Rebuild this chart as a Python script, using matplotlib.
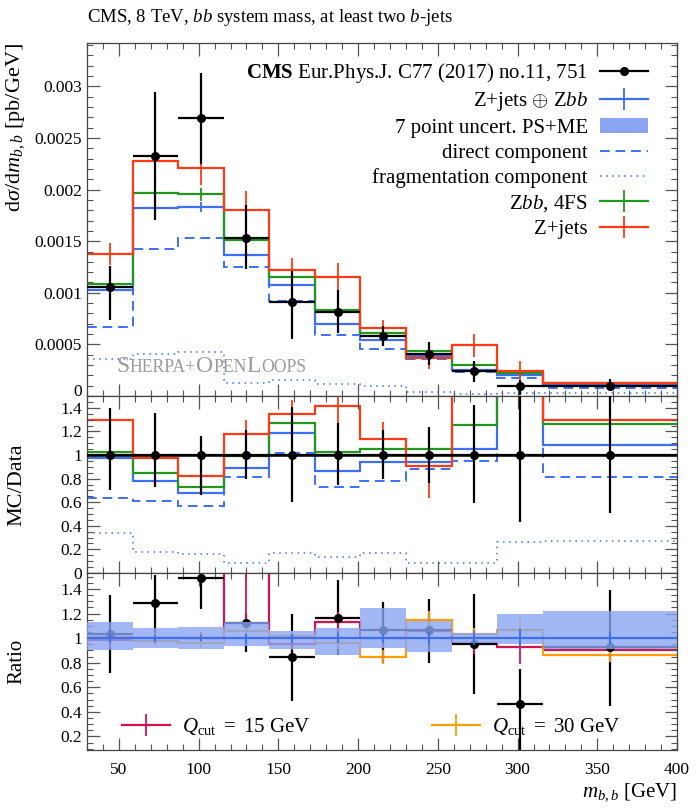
import numpy as np
import matplotlib
matplotlib.use("Agg")
import matplotlib.pyplot as plt
from matplotlib.lines import Line2D
from matplotlib.patches import Patch
from matplotlib.ticker import MultipleLocator, FuncFormatter
from matplotlib.offsetbox import TextArea, HPacker, AnchoredOffsetbox

plt.rcParams['font.family'] = 'Liberation Serif'
plt.rcParams['mathtext.fontset'] = 'custom'
plt.rcParams['mathtext.rm'] = 'Liberation Serif'
plt.rcParams['mathtext.it'] = 'Liberation Serif:italic'
plt.rcParams['mathtext.bf'] = 'Liberation Serif:bold'
plt.rcParams['font.size'] = 13

# ─── DATA ───────────────────────────────────────────────────────────────
edges = [30, 58.57, 87.14, 115.71, 144.29, 172.86, 201.43, 230, 258.57, 287.14, 315.71, 400]

# CMS data (pb/GeV) and errors as drawn in the top panel
data = [0.00106, 0.00233, 0.00269, 0.00153, 0.00091, 0.00081, 0.00058, 0.00041, 0.00024, 0.000096, 0.0001]
data_up = [0.00020, 0.00062, 0.00044, 0.00032, 0.00030, 0.00022, 0.00010, 0.00011, 0.00010, 0.00006, 0.00006]
data_dn = [0.00032, 0.00062, 0.00044, 0.00030, 0.00036, 0.00020, 0.00010, 0.00011, 0.00010, 0.00009, 0.00005]

# data error band as drawn in the MC/Data panel
mcdata_hi = [1.40, 1.356, 1.163, 1.21, 1.41, 1.27, 1.21, 1.24, 1.42, 1.6, 1.6]
mcdata_lo = [0.70, 0.73, 0.66, 0.80, 0.60, 0.75, 0.794, 0.76, 0.59, 0.435, 0.51]

# predictions (pb/GeV)
zjets_zbb = [0.001030, 0.001817, 0.001829, 0.001362, 0.001077, 0.000700, 0.000547, 0.000387, 0.000252, 0.000200, 0.0001085]
zjets_zbb_err = [0.00004, 0.00005, 0.00005, 0.00005, 0.00004, 0.00003, 0.00002, 0.00002, 0.000015, 0.000015, 0.000005]
direct = [0.000671, 0.001421, 0.001528, 0.001248, 0.000923, 0.000592, 0.000452, 0.00036, 0.000228, 0.000178, 0.0000816]
frag = [0.000363, 0.000408, 0.000425, 0.000125, 0.000152, 0.000112, 0.000097, 0.000034, 0.00002, 0.0000255, 0.000027]
zbb_4fs = [0.001090, 0.001969, 0.001953, 0.001515, 0.001154, 0.000833, 0.000611, 0.000432, 0.000302, 0.00022, 0.0001265]
zbb_4fs_err = [0.00004, 0.00006, 0.00006, 0.00005, 0.00004, 0.00003, 0.00002, 0.00002, 0.00002, 0.00002, 0.000005]
zjets = [0.001375, 0.002276, 0.002206, 0.001798, 0.001224, 0.001149, 0.000661, 0.000372, 0.00049, 0.000245, 0.00013]
zjets_err = [0.00011, 0.00018, 0.00016, 0.00019, 0.00011, 0.00014, 0.00008, 0.00011, 0.00011, 0.00009, 0.00001]

# bottom panel: ratio to Z+jets (+) Zbb
ratio_data = [1.035, 1.287, 1.488, 1.125, 0.846, 1.163, 1.07, 1.063, 0.954, 0.466, 0.927]
ratio_data_hi = [1.35, 1.51, 1.53, 1.20, 1.20, 1.47, 1.29, 1.32, 1.36, 0.75, 1.39]
ratio_data_lo = [0.72, 0.955, 1.24, 0.886, 0.49, 0.86, 0.80, 0.80, 0.547, 0.0, 0.45]
band_lo = [0.90, 0.92, 0.91, 0.935, 0.91, 0.86, 0.92, 0.886, 0.96, 0.955, 0.908]
band_hi = [1.13, 1.08, 1.09, 1.135, 1.06, 1.08, 1.246, 1.14, 1.04, 1.20, 1.217]
q15 = [0.986, 1.0, 1.0, 1.8, 0.954, 1.13, 1.0, 1.055, 0.96, 0.927, 0.905]
q15_err = [0.07, 0.05, 0.05, 0.65, 0.05, 0.08, 0.08, 0.08, 0.09, 0.14, 0.05]
q30 = [1.01, 0.98, 0.96, 1.055, 1.014, 0.96, 0.846, 1.144, 1.03, 1.07, 0.865]
q30_err = [0.04, 0.04, 0.04, 0.04, 0.04, 0.05, 0.06, 0.08, 0.05, 0.09, 0.06]

# ─── STYLE ──────────────────────────────────────────────────────────────
C_BLUE = '#3d6ff0'
C_GREEN = '#23961f'
C_RED = '#ff3a14'
C_CRIMSON = '#d11450'
C_ORANGE = '#ff9c0a'
C_BAND = '#8aa6f2'
LABEL_X = -0.102

edges = np.array(edges)
cx = 0.5 * (edges[1:] + edges[:-1])
hw = 0.5 * (edges[1:] - edges[:-1])
d = np.array(data)


def style_axis(ax):
    ax.set_xlim(30, 400)
    ax.xaxis.set_major_locator(MultipleLocator(50))
    ax.xaxis.set_minor_locator(MultipleLocator(10))
    ax.tick_params(which='both', direction='in', top=True, right=True, color='#555555',
                   labelsize=12.5)
    ax.tick_params(which='major', length=9, width=0.9)
    ax.tick_params(which='minor', length=4.5, width=0.8)
    ax.tick_params(axis='x', pad=9)
    ax.yaxis.set_major_formatter(FuncFormatter(lambda v, p: '%g' % round(v, 6)))
    for s in ax.spines.values():
        s.set_color('#444444')
        s.set_linewidth(0.9)


def mc_hist(ax, vals, errs, color, ls='-', lw=1.6):
    vals = np.array(vals)
    ax.stairs(vals, edges, baseline=None, color=color, lw=lw, ls=ls)
    if errs is not None:
        ax.errorbar(cx, vals, yerr=errs, fmt='none', ecolor=color, elinewidth=1.3)


fig = plt.figure(figsize=(7, 8.1), dpi=100)
ax1 = fig.add_axes([0.1243, 0.5111, 0.8429, 0.4358])
ax2 = fig.add_axes([0.1243, 0.2926, 0.8429, 0.2185], sharex=ax1)
ax3 = fig.add_axes([0.1243, 0.0741, 0.8429, 0.2185], sharex=ax1)

# ─── MAIN PANEL ─────────────────────────────────────────────────────────
mc_hist(ax1, frag, None, C_BLUE, ls=(0, (1, 3)), lw=1.1)
mc_hist(ax1, direct, None, C_BLUE, ls=(0, (5, 3)), lw=1.4)
mc_hist(ax1, zjets_zbb, zjets_zbb_err, C_BLUE)
mc_hist(ax1, zbb_4fs, zbb_4fs_err, C_GREEN)
mc_hist(ax1, zjets, zjets_err, C_RED)
ax1.errorbar(cx, d, xerr=hw, yerr=[data_dn, data_up], fmt='o', color='black',
             ms=5.5, elinewidth=1.6, capsize=0, zorder=5)
ax1.set_ylim(0, 0.00342)
ax1.yaxis.set_major_locator(MultipleLocator(0.0005))
ax1.yaxis.set_minor_locator(MultipleLocator(0.0001))
style_axis(ax1)
ax1.tick_params(labelbottom=False)
ax1.set_ylabel(r'$\mathrm{d}\sigma/\mathrm{d}m_{b,b}$ [pb/GeV]', loc='top', fontsize=16)
ax1.yaxis.set_label_coords(LABEL_X, 1.0)
ax1.set_title(r'CMS, 8 TeV, $bb$ system mass, at least two $b$-jets', loc='left', pad=15, fontsize=13.5)

handles = [
    Line2D([], [], color='black', marker='o', ms=5.5, lw=1.6),
    Line2D([], [], color=C_BLUE, marker='|', ms=16, mew=1.3, lw=1.6),
    Patch(facecolor=C_BAND, edgecolor='none'),
    Line2D([], [], color=C_BLUE, ls=(0, (5, 3)), lw=1.4),
    Line2D([], [], color=C_BLUE, ls=(0, (1, 3)), lw=1.1),
    Line2D([], [], color=C_GREEN, marker='|', ms=16, mew=1.3, lw=1.6),
    Line2D([], [], color=C_RED, marker='|', ms=16, mew=1.3, lw=1.6),
]
labels = [
    r'$\mathbf{CMS}$ Eur.Phys.J. C77 (2017) no.11, 751',
    r'Z+jets $\oplus$ Z$bb$',
    '7 point uncert. PS+ME',
    'direct component',
    'fragmentation component',
    r'Z$bb$, 4FS',
    'Z+jets',
]
leg = ax1.legend(handles, labels, loc='upper right', bbox_to_anchor=(0.951, 0.949),
                 markerfirst=False, frameon=False, numpoints=1, handlelength=2.3,
                 handletextpad=0.6, labelspacing=0.25, fontsize=15,
                 borderaxespad=0, borderpad=0)
for col in leg._legend_handle_box.get_children():
    col.align = 'right'

parts = [('S', 17), ('HERPA+', 12.7), ('O', 17), ('PEN', 12.7), ('L', 17), ('OOPS', 12.7)]
box = HPacker(children=[TextArea(t, textprops=dict(color='#9a9a9a', size=s)) for t, s in parts],
              align='baseline', pad=0, sep=0)
anch = AnchoredOffsetbox(loc='lower left', child=box, pad=0, borderpad=0, frameon=False,
                         bbox_to_anchor=(0.05, 0.055), bbox_transform=ax1.transAxes)
ax1.add_artist(anch)

# ─── MC / DATA ──────────────────────────────────────────────────────────
mc_hist(ax2, np.array(frag) / d, None, C_BLUE, ls=(0, (1, 3)), lw=1.1)
mc_hist(ax2, np.array(direct) / d, None, C_BLUE, ls=(0, (5, 3)), lw=1.4)
mc_hist(ax2, np.array(zjets_zbb) / d, np.array(zjets_zbb_err) / d, C_BLUE)
mc_hist(ax2, np.array(zbb_4fs) / d, np.array(zbb_4fs_err) / d, C_GREEN)
mc_hist(ax2, np.array(zjets) / d, np.array(zjets_err) / d, C_RED)
ones = np.ones_like(d)
ax2.errorbar(cx, ones, xerr=hw, yerr=[ones - np.array(mcdata_lo), np.array(mcdata_hi) - ones],
             fmt='o', color='black', ms=5.5, elinewidth=1.6, capsize=0, zorder=5)
ax2.axhline(1, color='black', lw=1.8, zorder=4)
ax2.set_ylim(0, 1.5)
ax2.yaxis.set_major_locator(MultipleLocator(0.2))
ax2.yaxis.set_minor_locator(MultipleLocator(0.05))
style_axis(ax2)
ax2.tick_params(labelbottom=False)
ax2.set_ylabel('MC/Data', fontsize=16)
ax2.yaxis.set_label_coords(LABEL_X, 0.5)

# ─── RATIO ──────────────────────────────────────────────────────────────
rd = np.array(ratio_data)
ax3.errorbar(cx, rd, xerr=hw, yerr=[rd - np.array(ratio_data_lo), np.array(ratio_data_hi) - rd],
             fmt='o', color='black', ms=5.5, elinewidth=1.6, capsize=0, zorder=2)
mc_hist(ax3, q15, q15_err, C_CRIMSON)
mc_hist(ax3, q30, q30_err, C_ORANGE)
ax3.stairs(band_hi, edges, baseline=band_lo, fill=True, color=C_BAND, alpha=0.8, lw=0, zorder=3)
zz = np.array(zjets_zbb)
ax3.stairs(zz / zz, edges, baseline=None, color=C_BLUE, lw=1.6, zorder=4)
ax3.errorbar(cx, zz / zz, yerr=np.array(zjets_zbb_err) / zz, fmt='none', ecolor=C_BLUE,
             elinewidth=1.3, zorder=4)
ax3.set_ylim(0.09, 1.53)
ax3.yaxis.set_major_locator(MultipleLocator(0.2))
ax3.yaxis.set_minor_locator(MultipleLocator(0.05))
style_axis(ax3)
ax3.set_ylabel('Ratio', fontsize=15)
ax3.yaxis.set_label_coords(LABEL_X, 0.5)
ax3.set_xlabel(r'$m_{b,b}$ [GeV]', loc='right', fontsize=15, labelpad=2)

qh = [Line2D([], [], color=C_CRIMSON, marker='|', ms=16, mew=1.3, lw=1.6),
      Line2D([], [], color=C_ORANGE, marker='|', ms=16, mew=1.3, lw=1.6)]
ax3.legend(qh, [r'$Q_\mathrm{cut}\ =\ 15$ GeV', r'$Q_\mathrm{cut}\ =\ 30$ GeV'], ncol=2,
           loc='center left', bbox_to_anchor=(0.059, 0.13), frameon=False, numpoints=1,
           handlelength=2.3, handletextpad=0.6, columnspacing=5.8, fontsize=15,
           borderaxespad=0, borderpad=0)

# keep the lowest label of the top panel clear of the MC/Data labels
fig.canvas.draw()
for lab in ax1.get_yticklabels():
    if lab.get_text() == '0':
        lab.set_verticalalignment('baseline')

fig.savefig('out.png', dpi=100)
